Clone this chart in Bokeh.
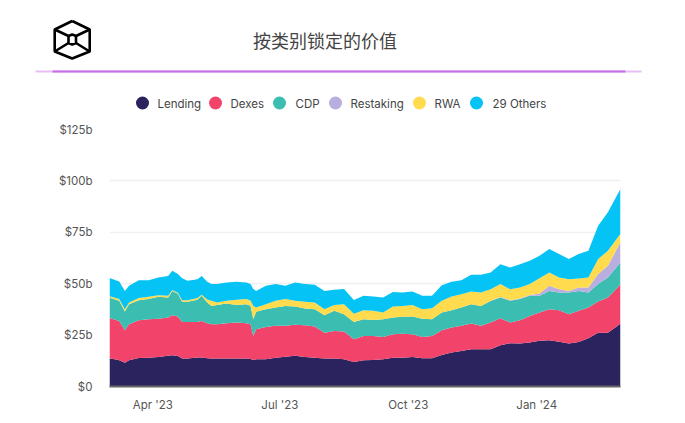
import pandas as pd
from bokeh.core.properties import value
from bokeh.embed import file_html
from bokeh.layouts import column
from bokeh.models import ColumnDataSource, FixedTicker, Range1d
from bokeh.plotting import figure
from bokeh.resources import INLINE

TITLE = "按类别锁定的价值"
CATEGORIES = ["Lending", "Dexes", "CDP", "Restaking", "RWA", "29 Others"]
COLORS = ["#2a235e", "#f2446b", "#3bbdb2", "#b9aee0", "#ffdb4d", "#05c3f5"]

START = "2023-03-01"
DAY_OFFSETS = [0, 7, 11, 14, 21, 28, 35, 42, 45, 49, 52, 56, 63, 66, 70, 73, 77, 84, 91, 98, 101, 103, 105,
               112, 119, 126, 133, 140, 147, 154, 161, 168, 175, 182, 189, 196, 203, 210, 217, 224, 231,
               238, 245, 252, 259, 266, 273, 280, 287, 294, 301, 308, 315, 322, 329, 336, 343, 350, 357,
               364, 366]

LENDING = [13.8, 12.8, 11.6, 12.8, 13.9, 14.0, 14.4, 14.9, 15.2, 14.8, 13.6, 13.6, 14.1, 14.1, 13.8, 13.6, 13.6,
           13.6, 13.6, 13.6, 13.4, 12.9, 13.2,
           13.2, 14.0, 14.5, 14.9, 14.4, 14.0, 13.6, 13.6, 13.2, 11.9, 12.8, 12.9, 13.2, 14.0, 14.0, 14.4, 13.7, 13.7,
           15.3, 16.5, 17.3, 18.1, 18.1, 18.1, 20.1, 21.0, 20.9, 21.4, 22.2, 22.5, 21.8, 20.9, 21.7, 23.5, 26.2, 26.2,
           29.5, 30.6]
DEXES = [19.5, 19.1, 15.8, 17.5, 18.3, 18.7, 18.6, 18.6, 19.5, 19.3, 17.8, 17.8, 17.3, 17.8, 17.0, 16.7, 16.7,
         17.2, 17.5, 17.2, 16.9, 11.7, 14.6,
         15.8, 15.5, 15.0, 15.1, 15.4, 15.2, 12.6, 13.4, 13.5, 11.1, 11.8, 11.7, 10.9, 11.4, 11.7, 11.0, 10.4, 10.9,
         12.1, 12.2, 12.2, 12.5, 11.4, 13.0, 13.1, 10.1, 11.3, 12.9, 13.8, 15.1, 15.3, 14.3, 15.1, 14.9, 15.1, 17.1,
         18.7, 19.2]
CDP = [9.9, 9.8, 9.1, 9.7, 9.8, 9.8, 10.6, 9.8, 11.8, 11.0, 9.8, 9.8, 10.8, 12.2, 10.0, 8.9, 9.4,
       9.6, 8.5, 9.2, 9.0, 8.1, 8.5,
       8.6, 8.9, 9.7, 8.9, 8.1, 8.4, 8.5, 9.8, 8.5, 8.4, 8.1, 7.8, 8.6, 8.1, 8.2, 8.6, 8.9, 8.1,
       8.6, 8.4, 8.9, 9.4, 9.7, 10.5, 10.1, 10.6, 10.3, 9.8, 8.1, 8.9, 8.6, 10.5, 9.7, 7.3, 8.5, 9.7,
       10.5, 10.6]
RESTAKING = [0.0] * 46 + [0.1, 0.2, 0.3, 0.3, 0.4, 1.1, 2.5, 1.6, 0.8, 1.6, 2.4, 4.9, 5.7, 9.0, 9.7]
RWA = [0.7, 0.8, 1.1, 0.9, 1.0, 1.1, 0.8, 0.8, 0.4, 0.5, 0.8, 0.8, 0.8, 0.5, 1.5, 2.5, 1.2,
       1.3, 2.6, 2.5, 2.5, 6.5, 2.1,
       2.4, 3.3, 3.3, 2.8, 3.3, 3.3, 2.9, 2.9, 4.8, 4.0, 4.4, 4.4, 3.3, 5.4, 5.3, 5.7, 4.6, 5.4,
       5.7, 6.7, 6.5, 6.2, 6.5, 5.6, 6.3, 5.3, 5.4, 5.3, 7.5, 6.5, 5.7, 5.7, 4.4, 4.9, 7.3, 7.3,
       4.8, 4.1]
OTHERS = [8.9, 8.6, 8.9, 8.1, 8.7, 8.1, 8.6, 9.7, 9.4, 9.1, 10.7, 9.4, 9.2, 9.2, 8.7, 8.1, 8.9,
          8.9, 8.7, 8.1, 8.0, 8.2, 8.1,
          9.0, 8.1, 6.5, 8.9, 8.6, 8.6, 8.9, 7.3, 7.4, 6.7, 7.0, 7.0, 7.3, 7.1, 6.5, 6.5, 6.5, 6.0,
          7.6, 7.1, 6.8, 8.1, 8.6, 8.2, 9.7, 10.6, 11.3, 11.4, 10.9, 11.4, 11.4, 9.8, 11.9, 13.0, 16.2, 18.7,
          21.1, 21.9]

Y_TICKS = [0, 25, 50, 75, 100, 125]
Y_LABELS = ["$0", "$25b", "$50b", "$75b", "$100b", "$125b"]
X_TICK_DATES = ["2023-04-01", "2023-07-01", "2023-10-01", "2024-01-01"]
X_LABELS = ["Apr '23", "Jul '23", "Oct '23", "Jan '24"]

FONT = "Inter"

# ---------- header ----------
h = figure(width=685, height=118, output_backend="svg", toolbar_location=None,
           x_axis_location=None, y_axis_location=None,
           x_range=Range1d(0, 685), y_range=Range1d(118, 0),
           min_border=0, frame_align=False)
h.grid.visible = False
h.outline_line_color = None

# logo
LOGO_W = 2.6
h.line([71.7, 89.2, 89.2, 71.7, 54.2, 54.2, 71.7], [20.5, 29, 51, 58, 51, 29, 20.5],
       line_color="#000000", line_width=LOGO_W)
h.line([68, 71.7, 75.5, 75.5, 71.7, 68, 68], [35.5, 34, 35.5, 42.5, 44, 42.5, 35.5],
       line_color="#000000", line_width=LOGO_W)
for x0, y0, x1, y1 in [(54.2, 29, 68, 35.5), (89.2, 29, 75.5, 35.5), (54.2, 51, 68, 42.5), (89.2, 51, 75.5, 42.5)]:
    h.line([x0, x1], [y0, y1], line_color="#000000", line_width=LOGO_W)

h.text([324.5], [39], text=[TITLE], text_font=value("Noto Sans CJK SC"), text_font_size="18px",
       text_align="center", text_baseline="middle", text_color="#444444")

# rule
h.quad(left=[35], right=[641], top=[70], bottom=[72], fill_color="#e6c0f5", line_color=None)
h.quad(left=[52], right=[625], top=[70], bottom=[72], fill_color="#c56ee8", line_color=None)

# legend
LEG_DOT_X = [142, 215, 279, 335, 419, 476]
LEG_TEXT_X = [157, 230, 295, 350, 434, 492]
h.scatter(LEG_DOT_X, [102.5] * 6, size=13, marker="circle", fill_color=COLORS, line_color=None)
h.text(LEG_TEXT_X, [103] * 6, text=CATEGORIES, text_font=value(FONT), text_font_size="11.5px",
       text_baseline="middle", text_color="#444444")

# ---------- chart ----------
dates = pd.Timestamp(START) + pd.to_timedelta(DAY_OFFSETS, unit="D")
source = ColumnDataSource(dict(date=dates, Lending=LENDING, Dexes=DEXES, CDP=CDP,
                               Restaking=RESTAKING, RWA=RWA, Others=OTHERS))

p = figure(width=685, height=302, output_backend="svg", toolbar_location=None,
           x_axis_type="datetime",
           x_range=Range1d(dates[0], dates[-1]), y_range=Range1d(0, 125),
           min_border_left=109, min_border_right=65, min_border_top=11, min_border_bottom=34,
           frame_align=False)
p.varea_stack(["Lending", "Dexes", "CDP", "Restaking", "RWA", "Others"], x="date",
              color=COLORS, source=source)

p.outline_line_color = None
p.xgrid.visible = False
p.ygrid.grid_line_color = "#f0f0f0"
p.ygrid.grid_line_width = 1.5
p.ygrid.ticker = FixedTicker(ticks=Y_TICKS)

p.yaxis.ticker = FixedTicker(ticks=Y_TICKS)
p.yaxis.major_label_overrides = dict(zip(Y_TICKS, Y_LABELS))
p.yaxis.axis_line_color = None
p.yaxis.major_tick_line_color = None
p.yaxis.minor_tick_line_color = None
p.yaxis.major_label_standoff = 11

tick_ms = [pd.Timestamp(d).timestamp() * 1000 for d in X_TICK_DATES]
p.xaxis.ticker = FixedTicker(ticks=tick_ms)
p.xaxis.major_label_overrides = dict(zip(tick_ms, X_LABELS))
p.xaxis.axis_line_color = "#666666"
p.xaxis.axis_line_width = 2
p.xaxis.major_tick_line_color = None
p.xaxis.minor_tick_line_color = None
p.xaxis.major_label_standoff = 5

for ax in (p.xaxis, p.yaxis):
    ax.major_label_text_font = FONT
    ax.major_label_text_font_size = "11.5px"
    ax.major_label_text_color = "#555555"

# ---------- range buttons, cut by the window's lower edge ----------
f = figure(width=685, height=3, output_backend="svg", toolbar_location=None,
           x_axis_location=None, y_axis_location=None,
           x_range=Range1d(0, 685), y_range=Range1d(423, 420),
           min_border=0, frame_align=False)
f.grid.visible = False
f.outline_line_color = None
f.quad(left=[418, 460, 502, 543, 585], right=[454, 495, 537, 579, 620],
       top=[421.3] * 5, bottom=[423] * 5,
       fill_color=["#d4d4d4", "#d4d4d4", "#2a235e", "#d4d4d4", "#d4d4d4"], line_color=None)

layout = column(h, p, f, spacing=0)
open("out.html", "w").write(file_html(layout, INLINE))
